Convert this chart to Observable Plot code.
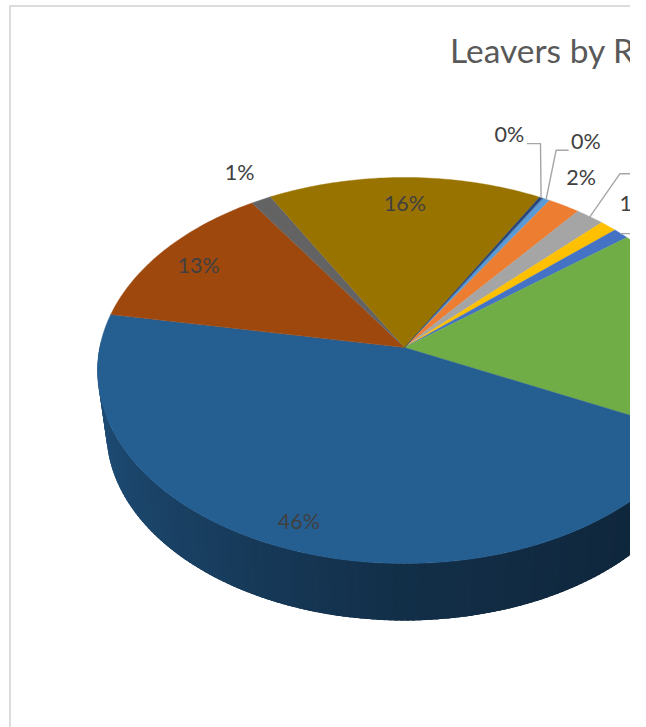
<!DOCTYPE html>
<html>
<head>
<meta charset="utf-8">
<script src="https://cdn.jsdelivr.net/npm/d3@7"></script>
<script src="https://cdn.jsdelivr.net/npm/@observablehq/plot@0.6"></script>
<style>
  html, body { margin: 0; padding: 0; background: #fff; }
  #frame { position: absolute; left: 9px; top: 5px; width: 621px; height: 722px;
           border-top: 2px solid #dcdcdc; border-left: 2px solid #dcdcdc; box-sizing: border-box; pointer-events: none; }
  svg { display: block; }
</style>
</head>
<body>
<div id="chart"></div>
<div id="frame"></div>
<script>
// Data: share of leavers per slice, clockwise from the first slice
const shares = [0.45, 1.9, 1.7, 1.0, 0.95, 17.8, 45.7, 12.9, 1.2, 16.2, 0.2];
const labels = ["0%", "2%", "2%", "1%", "1%", "18%", "46%", "13%", "1%", "16%", "0%"];
const colors = ["#5B9BD5", "#ED7D31", "#A5A5A5", "#FFC000", "#4472C4", "#70AD47",
                "#255E91", "#9E480E", "#636363", "#997300", "#264478"];
const titleText = "Leavers by R";

// Layout: label placement per slice [angle shift in degrees, radius fraction]; null = outside the visible crop
const labelPlace = [[-1.9, 1.413], [-1.9, 1.186], null, [-1.4, 1.172], null, null,
                    [2.7, 0.886], [-1.2, 0.841], [0.6, 1.192], [0, 0.825], [-12.5, 1.345]];
// Layout: leader lines per slice, as offsets from the slice's rim midpoint
const leaderBends = {
  10: [[-0.6, -54], [-13.6, -54]],
  0: [[10, -49], [22, -49]],
  2: [[30, -43], [70, -43]],
  4: [[0, 0], [40, 0]]
};

// Perspective pie geometry
const firstAngle = 30, k = 0.1192;
const topFace = {A: 304.8, B: 190.3, cy: 0};
const baseFace = {A: 296, B: 186.3, cy: 61.5};
function project(deg, r = 1, f = topFace) {
  const t = deg * Math.PI / 180;
  const u = r * Math.sin(t), v = -r * Math.cos(t), w = 1 - k * v;
  return {x: f.A * u / w, y: f.cy + f.B * v / w};
}
const pie = d3.pie().sort(null).value(d => d)
  .startAngle(firstAngle * Math.PI / 180)
  .endAngle((firstAngle + 360) * Math.PI / 180)(shares);
const slices = pie.map((p, i) => ({
  i, from: p.startAngle * 180 / Math.PI, to: p.endAngle * 180 / Math.PI,
  mid: (p.startAngle + p.endAngle) * 90 / Math.PI
}));

// Top faces
const facePts = slices.flatMap(s => {
  const n = Math.max(2, Math.ceil((s.to - s.from) / 1));
  const rim = d3.range(n + 1).map(j => project(s.from + (s.to - s.from) * j / n));
  return [{x: 0, y: 0}, ...rim].map(p => ({...p, id: s.i, color: colors[s.i]}));
});

// Side wall: shaded bands along the front half of the pie, each overlapping the next so no seams show
const shade = d3.scaleLinear().domain([90, 135, 180, 225, 270]).range([0.4, 0.41, 0.5, 0.7, 0.86]);
const wallPts = [];
slices.forEach(s => {
  for (let a0 = s.to - 1; a0 > s.from - 1; a0 -= 1) {
    const from = Math.max(a0, s.from), to = Math.min(a0 + 2.5, s.to);
    const am = (a0 + 0.5) % 360;
    if (am < 90 || am > 270) continue;
    const c = d3.rgb(colors[s.i]), f = shade(am);
    const color = d3.rgb(c.r * f, c.g * f, c.b * f).formatHex();
    const id = s.i + "-" + a0;
    [project(from), project(to), project(to, 1, baseFace), project(from, 1, baseFace)]
      .forEach(p => wallPts.push({...p, id, color}));
  }
});

// Labels and leaders
const labelRows = slices.filter(s => labelPlace[s.i]).map(s => ({
  ...project(s.mid + labelPlace[s.i][0], labelPlace[s.i][1]), text: labels[s.i]
}));
const leaderPts = Object.keys(leaderBends).flatMap(i => {
  const rim = project(slices[i].mid);
  return [[0, 0], ...leaderBends[i]].map(([dx, dy]) => ({x: rim.x + dx, y: rim.y + dy, id: i}));
});

const fontFamily = "Lato, Carlito, 'Open Sans', sans-serif";
const chart = Plot.plot({
  width: 630, height: 727,
  margin: 0,
  x: {domain: [-404, 226], range: [0, 630], axis: null},
  y: {domain: [-347, 380], range: [0, 727], axis: null},
  color: {type: "identity"},
  style: {background: "#fff", fontFamily},
  marks: [
    Plot.line(wallPts, {x: "x", y: "y", z: "id", fill: "color", curve: "linear-closed"}),
    Plot.line(facePts, {x: "x", y: "y", z: "id", fill: "color", stroke: "color", strokeWidth: 0.4, curve: "linear-closed"}),
    Plot.line(leaderPts, {x: "x", y: "y", z: "id", stroke: "#a6a6a6", strokeWidth: 1.4, curve: "linear"}),
    Plot.text(labelRows, {x: "x", y: "y", text: "text", fill: "#404040", fontSize: 21.5, textAnchor: "middle", lineAnchor: "middle", fontFamily}),
    Plot.text([titleText], {x: () => 45.5, y: () => -285, text: d => d, fill: "#595959", fontSize: 33.5, fontWeight: 400, textAnchor: "start", lineAnchor: "bottom", fontFamily})
  ]
});
document.getElementById("chart").append(chart);
</script>
</body>
</html>
